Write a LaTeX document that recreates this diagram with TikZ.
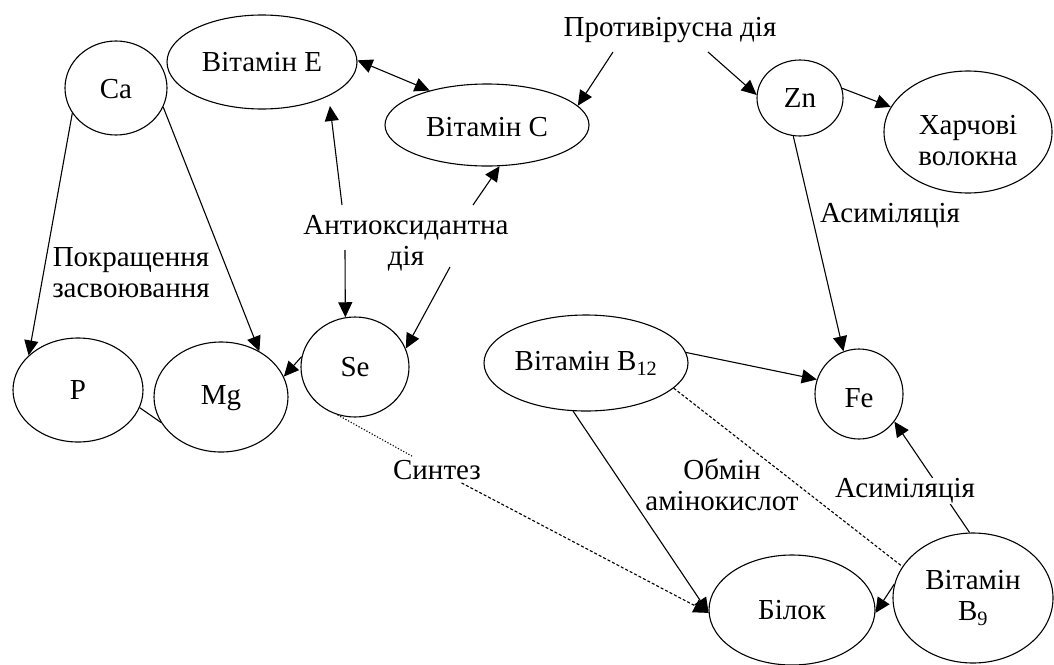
\documentclass[tikz,border=0pt]{standalone}
\usepackage{fontspec}
\setmainfont{Liberation Serif}
\usetikzlibrary{shapes.geometric,arrows.meta}
\begin{document}
\begin{tikzpicture}[x=1pt,y=-1pt,
  every node/.style={font=\fontsize{29pt}{31pt}\selectfont},
  elli/.style={draw, ellipse, inner sep=0pt, line width=1.1pt},
  lbl/.style={align=center, inner sep=1pt},
  tip/.style={-{Triangle[length=15pt,width=14pt]}},
  conn/.style={line width=1.1pt, tip},
  dconn/.style={line width=1.1pt, {Triangle[length=15pt,width=14pt]}-{Triangle[length=15pt,width=14pt]}},
  plain/.style={line width=1.1pt},
  dots/.style={line width=1.1pt, dash pattern=on 1.2pt off 1.8pt},
  dsh/.style={line width=1.1pt, dash pattern=on 3pt off 2pt},
]
\useasboundingbox (0,0) rectangle (1054,664);
\clip (0,0) rectangle (1054,664);

% nodes
\node[elli, minimum width=102pt, minimum height=94pt, text height=22pt] (Ca) at (116,88) {Ca};
\node[elli, minimum width=190pt, minimum height=94pt] (E) at (262,62) {Вітамін E};
\node[elli, minimum width=204pt, minimum height=82pt, text height=23pt] (C) at (487,125) {Вітамін C};
\node[elli, minimum width=86pt, minimum height=76pt] (Zn) at (800,98) {Zn};
\node[elli, minimum width=168pt, minimum height=122pt] (X) at (968,132) {};
\node[lbl] (Xt) at (968,141) {Харчові\\волокна};
\node[elli, minimum width=130pt, minimum height=104pt] (P) at (78,390) {P};
\node[elli, minimum width=134pt, minimum height=110pt, text height=21pt] (Mg) at (221,397) {Mg};
\node[elli, minimum width=108pt, minimum height=100pt] (Se) at (355,367) {Se};
\node[elli, minimum width=204pt, minimum height=96pt] (B12) at (586,363) {Вітамін B\textsubscript{12}};
\node[elli, minimum width=88pt, minimum height=90pt, text height=27pt] (Fe) at (859,394) {Fe};
\node[elli, minimum width=166pt, minimum height=110pt] (Bil) at (792,610) {Білок};
\node[elli, align=center, minimum width=160pt, minimum height=130pt] (B9) at (973,598) {Вітамін\\B\textsubscript{9}};

% text labels
\node[lbl] (prot) at (670,30) {Противірусна дія};
\node[lbl] (anti) at (406,243) {Антиоксидантна\\дія};
\node[lbl] (pokr) at (131,273) {Покращення\\засвоювання};
\node[lbl] (as1) at (890,216) {Асиміляція};
\node[lbl] (obm) at (722,485) {Обмін\\амінокислот};
\node[lbl, inner sep=3pt] (synt) at (437,470) {Синтез};

% free ends
\coordinate (aE) at (342,205);
\coordinate (aC) at (473,205);
\coordinate (aS1) at (345,250);
\coordinate (aS2) at (450,267);
\coordinate (pC) at (613,52);
\coordinate (pZ) at (708,52);

% connectors
\draw[conn] (Ca.210) -- (P.145);
\draw[conn] (Ca.338) -- (Mg.50);
\draw[conn] (Se.169) -- (Mg.18);
\draw[plain] (P.344) -- (Mg.203);
\draw[dconn] (E.1) -- (C.149);
\draw[conn, shorten >=10pt] (aE) -- (E.333);
\draw[conn] (aC) -- (C.287);
\draw[conn] (pC) -- (C.12);
\draw[conn] (pZ) -- (Zn.176);
\draw[conn] (Zn.13) -- (X.162);
\draw[conn] (Zn.260) -- (Fe.110);
\draw[conn] (aS1) -- (Se.101);
\draw[conn] (aS2) -- (Se.20);
\draw[conn] (B12.6) -- (Fe.161);
\draw[conn] (B12.255) -- (Bil.182);
\draw[dots] (Se.250) -- (synt);
\draw[dsh, tip] (synt) -- (Bil.182);
\draw[dsh] (B12.344) -- (B9.156);
\draw[conn] (B9.93) -- (Fe.322);
\draw[conn] (B9.170) -- (Bil.358);

% label that sits on a connector
\node[lbl, fill=white] (as2) at (905,491) {Асиміляція};
\end{tikzpicture}
\end{document}
